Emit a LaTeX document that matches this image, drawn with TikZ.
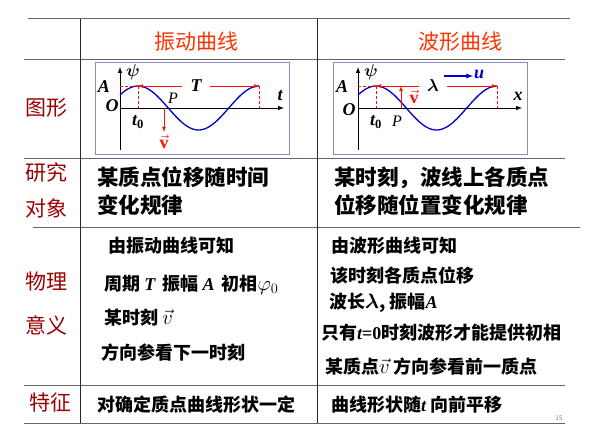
\documentclass[tikz,border=0pt]{standalone}
\usepackage{amsmath}
\usepackage{fontspec}
\newfontfamily\cjk{Noto Sans CJK SC}
\setmainfont{Liberation Serif}
\begin{document}
\begin{tikzpicture}[x=1pt,y=-1pt,
  grid/.style={draw=gray!80!black,line width=1pt},
  vgrid/.style={draw=gray!30!black,line width=0.8pt},
  rowlab/.style={text=red!60!black,font=\cjk\fontsize{21}{24}\selectfont,anchor=center},
  head/.style={text=orange!40!red,font=\cjk\fontsize{21}{24}\selectfont},
  big/.style={font=\cjk\bfseries\fontsize{21.5}{28}\selectfont,anchor=west,align=left,inner sep=0},
  mid/.style={font=\cjk\bfseries\fontsize{18}{20}\selectfont,anchor=west,inner sep=0},
  plotbox/.style={draw=blue!30!gray!70,line width=0.8pt},
  ax/.style={line width=1pt,-latex},
  curve/.style={blue!80!black,line width=1.3pt},
  rd/.style={red!90!orange,densely dashed,line width=0.5pt},
  ra/.style={red!90!orange,line width=0.8pt,-latex},
  math/.style={font=\bfseries\itshape\fontsize{18}{18}\selectfont,inner sep=1pt}]
\useasboundingbox (0,0) rectangle (609,441);
% table
\draw[grid] (28,19) -- (570,19);
\draw[grid] (24,60) -- (565,60);
\draw[grid] (24,158) -- (565,158);
\draw[grid] (33,227) -- (580,227);
\draw[grid] (24,385) -- (565,385);
\draw[grid] (24,423) -- (565,423);
\draw[vgrid] (80,19) -- (80,423);
\draw[vgrid] (317,19) -- (317,423);
% headers
\node[head] (h1) at (196,42) {振动曲线};
\node[head] (h2) at (460,42) {波形曲线};
\node[rowlab] (r1) at (46,108) {图形};
\node[rowlab] (r2a) at (46,172) {研究};
\node[rowlab] (r2b) at (46,208) {对象};
\node[rowlab] (r3a) at (46,282) {物理};
\node[rowlab] (r3b) at (46,325) {意义};
\node[rowlab] (r4) at (50,403) {特征};
% left plot
\draw[plotbox] (95,62) rectangle (289,154);
\draw[ax] (120,150) -- (120,67);
\draw[ax] (120,108) -- (284,108);
\draw[curve] plot[domain=120:259,samples=80] (\x,{108-22*cos((\x-138)/121*360)});
\draw[rd] (120,86) -- (138,86);
\coordinate (pk1) at (138,86);
\coordinate (pk2) at (259,86);
\draw[rd] (pk1) -- (138,108);
\draw[rd] (pk2) -- (259,108);
\node[math,inner xsep=8pt] (T) at (196,86) {T};
\draw[ra] (T.west) -- (pk1);
\draw[ra] (T.east) -- (pk2);
\node[math] (tl) at (280,96) {t};
\node[math] (psi1) at (133,72) {$\boldsymbol\psi$};
\node[math] (A1) at (104,87) {A};
\node[math] (O1) at (112,106) {O};
\node[math] (t01) at (138,122) {t\textsubscript{\upshape 0}};
\node[font=\itshape\fontsize{16}{16}\selectfont] (P1) at (173,98) {P};
\coordinate (z1) at (164,108);
\coordinate (z1e) at (164,132);
\draw[ra] (z1) -- (z1e);
\node[math,text=red!90!orange] (v1) at (164,142) {$\vec{\mathbf v}$};
% right plot
\draw[plotbox] (333,62) rectangle (527,154);
\draw[ax] (358,150) -- (358,67);
\draw[ax] (358,108) -- (522,108);
\draw[curve] plot[domain=358:497,samples=80] (\x,{108-22*cos((\x-376)/121*360)});
\draw[rd] (358,86) -- (376,86);
\coordinate (pk3) at (376,86);
\coordinate (pk4) at (497,86);
\draw[rd] (pk3) -- (376,108);
\draw[rd] (pk4) -- (497,108);
\node[math,inner xsep=8pt] (lam) at (433,86) {$\boldsymbol\lambda$};
\draw[ra] (lam.west) -- (pk3);
\draw[ra] (lam.east) -- (pk4);
\coordinate (ua) at (444,76);
\coordinate (ub) at (473,76);
\draw[blue!80!black,line width=1.3pt,-latex] (ua) -- (ub);
\node[math,text=blue!80!black] (u) at (479,74) {u};
\node[math] (xl) at (518,96) {x};
\node[math] (psi2) at (371,72) {$\boldsymbol\psi$};
\node[math] (A2) at (342,87) {A};
\node[math] (O2) at (349,110) {O};
\node[math] (t02) at (376,122) {t\textsubscript{\upshape 0}};
\node[font=\itshape\fontsize{16}{16}\selectfont] (P2) at (397,121) {P};
\coordinate (z2) at (401,108);
\coordinate (z2e) at (401,86);
\draw[ra] (z2) -- (z2e);
\node[math,text=red!90!orange] (v2) at (414,97) {$\vec{\mathbf v}$};
% row 2
\node[big] (b1) at (97,191) {某质点位移随时间\\变化规律};
\node[big] (b2) at (334,191) {某时刻，波线上各质点\\位移随位置变化规律};
% row 3
\node[mid] (m1) at (108,246) {由振动曲线可知};
\node[mid] (m2) at (104,285) {周期 {\rmfamily\itshape T}\, 振幅 {\rmfamily\itshape A}\, 初相{\rmfamily\fontsize{20}{20}\selectfont$\varphi_0$}};
\node[mid] (m3) at (104,318) {某时刻 {\rmfamily\fontsize{20}{20}\selectfont$\vec v$}};
\node[mid] (m4) at (101,353) {方向参看下一时刻};
\node[mid] (n1) at (331,246) {由波形曲线可知};
\node[mid] (n2) at (330,276) {该时刻各质点位移};
\node[mid] (n3) at (329,303) {波长{\rmfamily\fontsize{20}{20}\selectfont$\boldsymbol\lambda$}, 振幅{\rmfamily\bfseries\itshape A}};
\node[mid] (n4) at (321,333) {只有{\rmfamily\itshape t}{\rmfamily =0}时刻波形才能提供初相};
\node[mid] (n5) at (325,367) {某质点{\rmfamily\fontsize{22}{22}\selectfont$\vec v$} 方向参看前一质点};
% row 4
\node[mid] (f1) at (97,405) {对确定质点曲线形状一定};
\node[mid] (f2) at (331,405) {曲线形状随{\rmfamily\itshape t} 向前平移};
\node[text=gray,font=\sffamily\fontsize{7}{7}\selectfont] (pg) at (559,418) {15};
\end{tikzpicture}
\end{document}
